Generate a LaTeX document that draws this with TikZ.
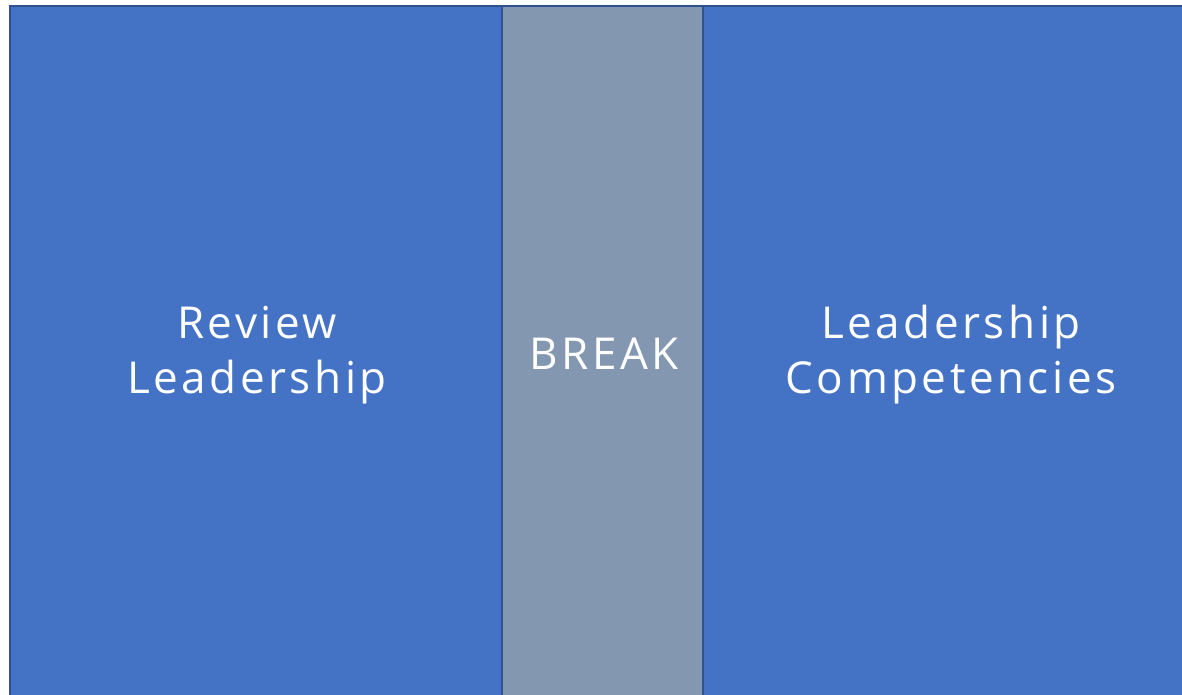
\documentclass[tikz,border=0pt]{standalone}
\usepackage{fontspec}
\setmainfont{Open Sans}[LetterSpace=8]
\definecolor{panelblue}{HTML}{4472C4}
\definecolor{panelgrey}{HTML}{8497B0}
\definecolor{edgeblue}{HTML}{2F528F}
\begin{document}
\begin{tikzpicture}[x=1pt,y=-1pt,
  panel/.style={draw=edgeblue,line width=2pt},
  label/.style={text=white,align=center,font=\fontsize{44}{55}\selectfont,inner sep=0pt}]
\useasboundingbox (0,0) rectangle (1182,694);
\clip (0,0) rectangle (1182,694);
% three stacked panels of the session agenda
\draw[panel,fill=panelblue] (9.5,5.5) rectangle (501.5,710);
\draw[panel,fill=panelgrey] (501.5,5.5) rectangle (703,710);
\draw[panel,fill=panelblue] (703,5.5) rectangle (1200,710);
\node[label] (review) at (257,355) {Review\\Leadership};
\node[label] (break) at (604,354) {BREAK};
\node[label] (comp) at (951,355) {Leadership\\Competencies};
\end{tikzpicture}
\end{document}
